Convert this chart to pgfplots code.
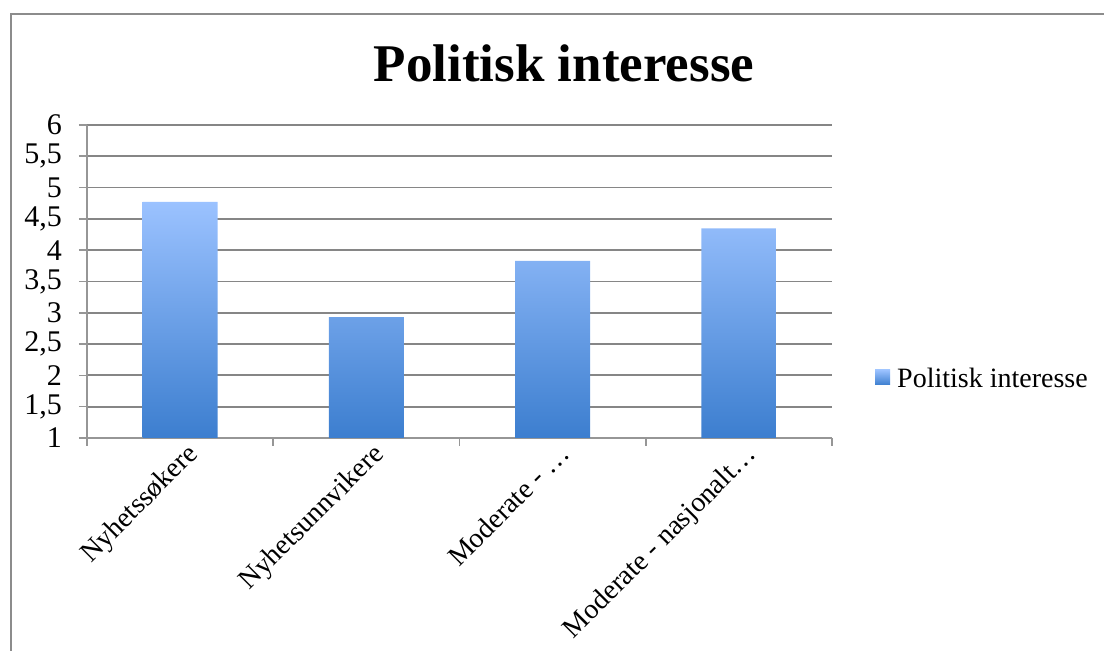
\documentclass[border=0pt]{standalone}
\usepackage{pgfplots}
\pgfplotsset{compat=1.18}
\usepackage{pgfplotstable}
\usepackage{fontspec}
\setmainfont{Liberation Serif}
\definecolor{barTop}{RGB}{155,194,255}
\definecolor{barBot}{RGB}{60,126,207}
\definecolor{gridgray}{RGB}{134,134,134}
\definecolor{axisgray}{RGB}{150,150,150}
\definecolor{framegray}{RGB}{140,140,140}
\pgfplotstableread{
x v
0 4.77
1 2.93
2 3.83
3 4.35
}\datatable
\begin{document}
\begin{tikzpicture}
\draw[framegray, line width=2pt] (11pt,-5pt) -- (11pt,637pt) -- (1110pt,637pt);
\node[font=\fontsize{53}{60}\selectfont\bfseries, anchor=base] at (564pt,569pt) {Politisk interesse};
\begin{axis}[
  set layers,
  at={(87pt,213pt)}, anchor=south west, scale only axis,
  width=745pt, height=313pt,
  xmin=-0.5, xmax=3.5, ymin=0, ymax=5,
  axis lines=left,
  axis line style={-, draw=axisgray, line width=1.6pt},
  ytick={0,0.5,1,1.5,2,2.5,3,3.5,4,4.5,5},
  yticklabels={1,{1,5},2,{2,5},3,{3,5},4,{4,5},5,{5,5},6},
  ymajorgrids,
  grid style={draw=gridgray, line width=1.8pt},
  tick align=outside,
  major tick length=8pt,
  tick style={draw=axisgray, line width=1.6pt},
  xtick={-0.5,0.5,1.5,2.5,3.5},
  xticklabels={},
  extra x ticks={0,1,2,3},
  extra x tick labels={Nyhetssøkere,Nyhetsunnvikere,Moderate - …,Moderate - nasjonalt…},
  extra x tick style={major tick length=0pt, tick style={draw=none},
    xticklabel style={rotate=45, anchor=north east, inner sep=0pt, font=\fontsize{28}{32}\selectfont, xshift=1pt, yshift=-6pt}},
  yticklabel style={anchor=east, inner sep=0pt, font=\fontsize{30}{34}\selectfont, xshift=-17pt},
  xticklabel style={font=\fontsize{28}{32}\selectfont},
  legend style={draw=none, fill=none, at={(axis description cs:1.0537,0.1885)}, anchor=west,
    font=\fontsize{28}{32}\selectfont, nodes={inner sep=0pt}, column sep=7pt},
  legend cell align=left,
]
\addplot[ybar, bar width=75pt, draw=none, top color=barTop, bottom color=barBot,
  legend image code/.code={\shade[top color=barTop, bottom color=barBot] (0pt,-6pt) rectangle (15pt,9pt);}]
  table[x=x, y expr=\thisrow{v}-1] {\datatable};
\addlegendentry{Politisk interesse}
\end{axis}
\pgfresetboundingbox
\useasboundingbox (0pt,0pt) rectangle (1104pt,651pt);
\end{tikzpicture}
\end{document}
